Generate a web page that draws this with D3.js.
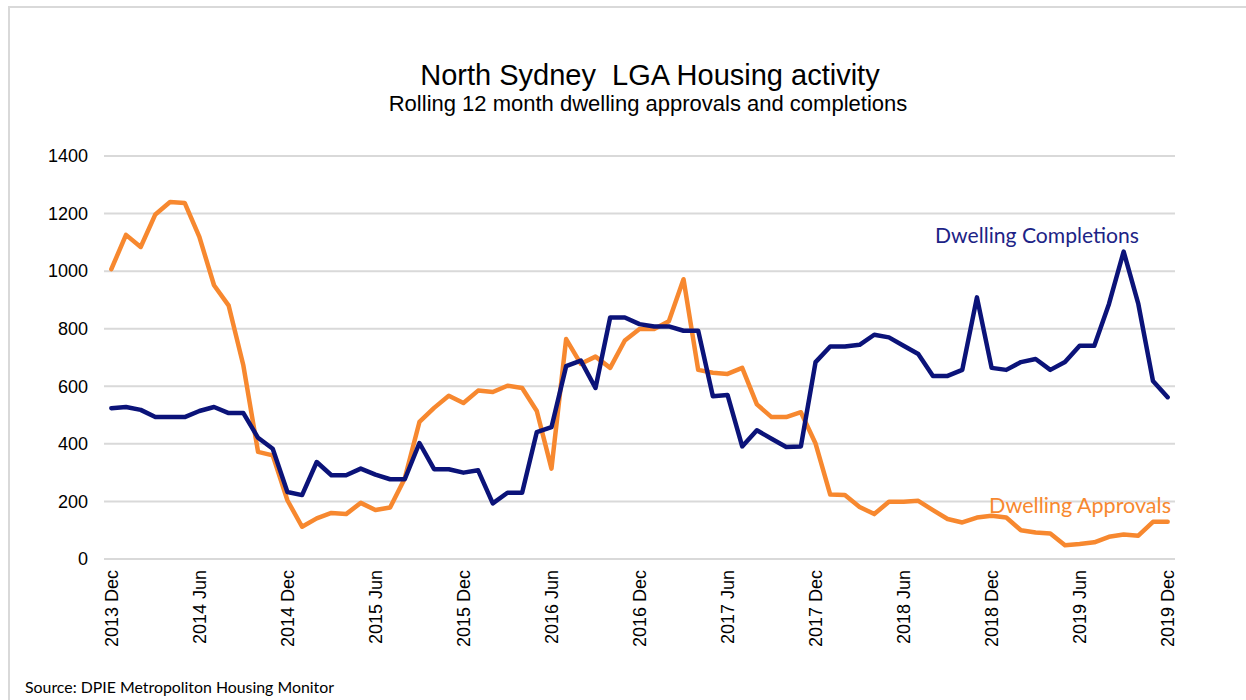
<!DOCTYPE html>
<html>
<head>
<meta charset="utf-8">
<script src="https://cdn.jsdelivr.net/npm/d3@7"></script>
<style>
  body { margin: 0; background: #fff; }
  svg { display: block; }
</style>
</head>
<body>
<div id="graphic"></div>
<script>
// month categories, Dec 2013 .. Dec 2019
let monthNames = ["Jan","Feb","Mar","Apr","May","Jun","Jul","Aug","Sep","Oct","Nov","Dec"];
let months = [];
for (let i = 0; i < 73; i++) {
    let m = (11 + i) % 12;
    let yr = 2013 + Math.floor((11 + i) / 12);
    months.push(yr + " " + monthNames[m]);
}

let tickLabels = ["2013 Dec","2014 Jun","2014 Dec","2015 Jun","2015 Dec","2016 Jun","2016 Dec",
                  "2017 Jun","2017 Dec","2018 Jun","2018 Dec","2019 Jun","2019 Dec"];
let yTicks = [0, 200, 400, 600, 800, 1000, 1200, 1400];

// rolling 12 month dwelling approvals
let approvals = [
    1007, 1126, 1084, 1197, 1240, 1237, 1119, 951, 880, 672, 372, 360,
    204, 112, 141, 160, 156, 195, 170, 179, 280, 476, 525, 567,
    542, 585, 580, 602, 594, 514, 314, 764, 678, 703, 664, 759,
    799, 799, 826, 972, 657, 647, 643, 664, 537, 493, 493, 510,
    401, 224, 222, 181, 156, 199, 199, 202, 170, 139, 127, 144,
    150, 144, 100, 92, 89, 48, 52, 58, 77, 85, 81, 129,
    129
];

// rolling 12 month dwelling completions
let completions = [
    524, 528, 518, 493, 493, 493, 514, 528, 507, 507, 421, 383,
    233, 222, 337, 291, 291, 314, 293, 277, 277, 403, 312, 312,
    300, 308, 193, 230, 230, 441, 458, 670, 689, 594, 839, 839,
    816, 808, 808, 793, 793, 565, 570, 391, 447, 418, 389, 391,
    684, 738, 738, 744, 779, 770, 741, 712, 636, 636, 657, 909,
    664, 657, 684, 695, 657, 684, 741, 741, 886, 1068, 886, 618,
    562
];

let W = 1246, H = 700;
let plotLeft = 104, plotRight = 1175, plotTop = 156, plotBottom = 559;

let svg = d3.select("#graphic")
  .append("svg")
    .attr("width", W)
    .attr("height", H);

// outer frame
svg.append("rect")
    .attr("x", 9).attr("y", 7)
    .attr("width", W).attr("height", H)
    .attr("fill", "none")
    .attr("stroke", "#d9d9d9")
    .attr("stroke-width", 2);

// titles
svg.append("text")
    .attr("x", 650).attr("y", 85)
    .attr("text-anchor", "middle")
    .style("font", "29px 'Liberation Sans', Arial, sans-serif")
    .style("white-space", "pre")
    .attr("fill", "#000")
    .text("North Sydney  LGA Housing activity");

svg.append("text")
    .attr("x", 648).attr("y", 111)
    .attr("text-anchor", "middle")
    .style("font", "22px 'Liberation Sans', Arial, sans-serif")
    .attr("fill", "#000")
    .text("Rolling 12 month dwelling approvals and completions");

// scales
let x = d3.scalePoint()
    .domain(months)
    .range([plotLeft, plotRight])
    .padding(0.5);

let y = d3.scaleLinear()
    .domain([0, 1400])
    .range([plotBottom, plotTop]);

// grid lines
svg.append("g")
  .selectAll("line")
  .data(yTicks)
  .enter()
  .append("line")
    .attr("x1", plotLeft).attr("x2", plotRight)
    .attr("y1", d => y(d)).attr("y2", d => y(d))
    .attr("stroke", "#d9d9d9")
    .attr("stroke-width", 2);

// y labels
svg.append("g")
  .selectAll("text")
  .data(yTicks)
  .enter()
  .append("text")
    .attr("x", 88)
    .attr("y", d => y(d))
    .attr("dy", "0.35em")
    .attr("text-anchor", "end")
    .style("font", "18px 'Liberation Sans', Arial, sans-serif")
    .attr("fill", "#000")
    .text(d => d);

// x labels, every 6 months
svg.append("g")
  .selectAll("text")
  .data(tickLabels)
  .enter()
  .append("text")
    .attr("transform", d => "translate(" + x(d) + ",570)rotate(-90)")
    .attr("dy", "0.35em")
    .attr("text-anchor", "end")
    .style("font", "18px 'Liberation Sans', Arial, sans-serif")
    .attr("fill", "#000")
    .text(d => d);

// lines
let line = d3.line()
    .x((d, i) => x(months[i]))
    .y(d => y(d));

svg.append("path")
    .datum(approvals)
    .attr("fill", "none")
    .attr("stroke", "#f7882f")
    .attr("stroke-width", 4.5)
    .attr("stroke-linejoin", "round")
    .attr("stroke-linecap", "round")
    .attr("d", line);

svg.append("path")
    .datum(completions)
    .attr("fill", "none")
    .attr("stroke", "#0b1379")
    .attr("stroke-width", 4.5)
    .attr("stroke-linejoin", "round")
    .attr("stroke-linecap", "round")
    .attr("d", line);

// series labels
svg.append("text")
    .attr("x", 935).attr("y", 243)
    .attr("textLength", 204)
    .attr("lengthAdjust", "spacingAndGlyphs")
    .style("font", "21px Lato, 'Open Sans', sans-serif")
    .attr("fill", "#1c2386")
    .text("Dwelling Completions");

svg.append("text")
    .attr("x", 989).attr("y", 513)
    .attr("textLength", 182)
    .attr("lengthAdjust", "spacingAndGlyphs")
    .style("font", "21px Lato, 'Open Sans', sans-serif")
    .attr("fill", "#f7882f")
    .text("Dwelling Approvals");

// source
svg.append("text")
    .attr("x", 25).attr("y", 693)
    .attr("textLength", 309)
    .attr("lengthAdjust", "spacingAndGlyphs")
    .style("font", "15px Lato, 'Open Sans', sans-serif")
    .attr("fill", "#000")
    .text("Source: DPIE Metropoliton Housing Monitor");
</script>
</body>
</html>
